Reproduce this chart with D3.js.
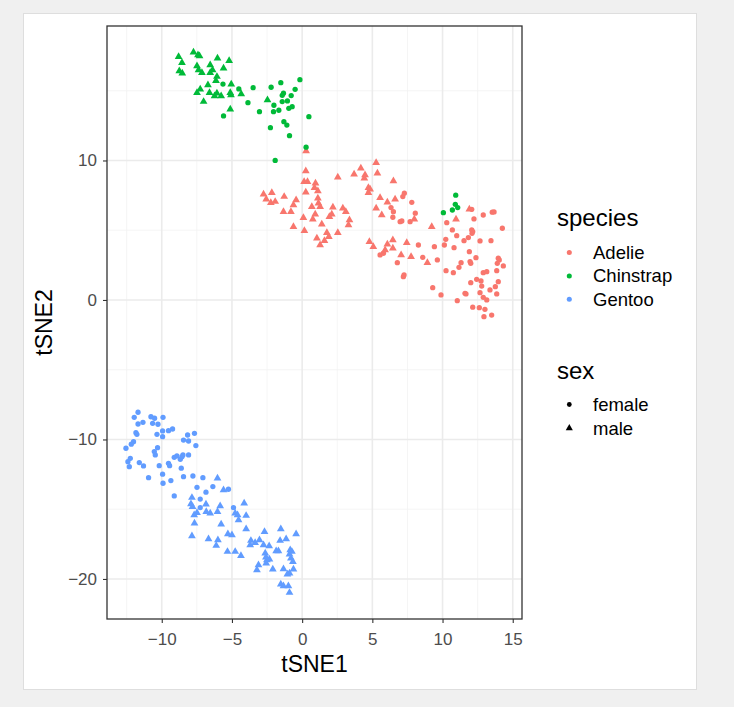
<!DOCTYPE html>
<html>
<head>
<meta charset="utf-8">
<title>tSNE penguins</title>
<script src="https://cdn.jsdelivr.net/npm/d3@7"></script>
<style>
  body { margin: 0; background: #f0f0f0; }
  svg { display: block; font-family: "Liberation Sans", Arial, sans-serif; }
</style>
</head>
<body>
<div id="viz"></div>
<script>
// tSNE coordinates, one array per species and sex
var adelieFemale = [
  [6.33,6.62],[6.50,6.33],[6.46,5.93],[6.98,5.61],[7.10,5.66],[7.17,7.41],[7.28,7.65],[7.81,7.00],
  [8.06,6.22],[7.69,5.61],[5.55,3.23],[5.79,3.35],[6.78,2.67],[7.21,1.67],[7.26,1.79],[8.28,3.94],
  [8.59,3.06],[9.42,3.82],[9.63,2.87],[9.30,0.88],[9.89,0.36],[10.30,5.54],[10.70,5.02],[10.23,4.35],
  [10.13,3.94],[10.82,3.75],[11.01,4.61],[10.25,2.10],[10.77,1.96],[11.17,2.34],[11.32,2.67],[11.53,4.25],
  [11.84,4.47],[12.08,5.02],[12.15,4.90],[12.10,4.78],[12.08,6.50],[12.24,5.81],[12.90,6.09],[13.54,6.29],
  [13.67,6.31],[14.26,5.14],[11.91,3.46],[12.38,3.03],[11.96,2.75],[12.01,2.63],[12.67,4.23],[13.45,4.25],
  [13.97,2.99],[14.04,2.87],[13.90,2.63],[14.33,2.44],[13.86,2.10],[12.90,1.96],[13.15,2.03],[12.43,1.48],
  [12.74,1.36],[12.79,1.00],[12.01,1.24],[13.97,1.31],[13.76,0.95],[13.38,0.72],[13.86,0.43],[12.67,0.52],
  [12.90,0.19],[13.15,0.00],[11.60,0.48],[11.67,0.43],[11.05,-0.05],[12.15,-0.52],[12.62,-0.55],[13.02,-0.67],
  [12.95,-1.20],[13.50,-1.08]
];
var adelieMale = [
  [0.28,10.68],[5.27,9.84],[4.18,9.44],[3.70,9.01],[4.48,8.96],[4.43,8.72],[5.36,9.08],[2.54,8.80],
  [0.26,9.25],[0.14,8.48],[0.38,8.48],[0.95,8.37],[0.88,8.05],[1.12,7.81],[0.26,7.72],[4.72,8.05],
  [4.84,7.94],[4.72,7.69],[5.55,7.33],[6.07,7.00],[-2.75,7.58],[-2.16,7.69],[-2.56,7.22],[-2.23,6.97],
  [-1.92,7.05],[-1.28,7.41],[-0.43,7.17],[-0.62,6.81],[1.12,7.29],[1.16,6.93],[1.28,6.69],[0.69,6.69],
  [2.19,6.65],[2.90,6.57],[3.11,6.33],[5.27,6.57],[-1.33,6.33],[-0.80,6.33],[0.93,6.14],[2.11,6.14],
  [1.94,5.97],[0.09,5.90],[0.76,5.78],[3.37,5.73],[3.30,5.38],[1.40,5.43],[-0.62,5.25],[0.16,4.97],
  [1.76,4.82],[1.90,4.54],[2.54,4.82],[1.05,4.42],[1.59,4.25],[1.28,3.94],[4.79,4.18],[5.07,3.82],
  [5.91,3.58],[6.07,3.99],[6.50,8.53],[6.62,7.22],[5.67,6.09],[7.99,5.78],[9.23,5.25],[10.96,5.78],
  [11.91,6.50],[6.46,4.30],[6.46,3.71],[7.45,4.11],[7.05,3.23],[7.76,3.10],[8.92,2.67]
];
var gentooFemale = [
  [-11.69,-8.05],[-11.96,-8.41],[-10.77,-8.37],[-10.51,-8.48],[-9.91,-8.41],[-11.69,-8.89],[-11.34,-8.77],[-10.65,-8.84],
  [-10.27,-8.91],[-11.84,-9.51],[-11.77,-9.63],[-10.34,-9.63],[-9.94,-9.39],[-9.94,-9.80],[-9.52,-9.37],[-9.23,-9.25],
  [-12.01,-10.16],[-12.17,-10.34],[-12.55,-10.63],[-10.30,-10.59],[-10.53,-10.87],[-10.46,-11.11],[-8.45,-10.04],[-8.09,-10.11],
  [-8.16,-9.68],[-7.67,-9.56],[-7.57,-10.44],[-12.24,-11.35],[-12.41,-11.59],[-12.31,-11.95],[-11.60,-11.66],[-11.30,-11.90],
  [-10.18,-11.88],[-9.52,-11.71],[-9.44,-11.88],[-9.11,-11.28],[-8.92,-11.18],[-8.68,-11.42],[-8.56,-11.23],[-8.49,-11.11],
  [-8.09,-11.11],[-8.61,-12.06],[-9.94,-12.49],[-10.94,-12.74],[-8.45,-12.67],[-7.78,-12.62],[-7.07,-12.74],[-9.35,-12.95],
  [-9.91,-13.14],[-7.49,-13.43],[-6.36,-13.38],[-6.85,-13.78],[-9.11,-14.05],[-7.26,-14.27],[-5.25,-13.57],[-4.89,-14.89],
  [-7.26,-14.89]
];
var gentooMale = [
  [-6.03,-12.78],[-7.85,-14.17],[-5.60,-13.62],[-7.92,-14.62],[-7.81,-14.82],[-6.85,-14.65],[-7.49,-15.25],[-7.69,-15.41],
  [-6.83,-15.18],[-6.55,-15.29],[-5.84,-14.77],[-6.03,-15.18],[-4.13,-14.57],[-4.77,-15.29],[-4.60,-15.41],[-3.99,-15.46],
  [-7.67,-16.01],[-5.77,-16.08],[-4.53,-15.77],[-3.99,-16.42],[-7.85,-16.92],[-5.29,-16.77],[-5.00,-16.85],[-6.67,-17.13],
  [-6.00,-17.20],[-6.12,-17.61],[-2.68,-16.61],[-1.52,-16.42],[-0.43,-16.77],[-3.65,-17.25],[-3.70,-17.56],[-3.35,-17.40],
  [-3.04,-17.20],[-2.75,-17.56],[-2.35,-17.63],[-1.57,-17.25],[-1.14,-17.13],[-5.32,-18.04],[-4.77,-18.04],[-4.36,-18.33],
  [-2.63,-18.16],[-2.58,-18.44],[-2.51,-18.64],[-2.33,-18.59],[-2.56,-18.87],[-1.85,-17.99],[-1.69,-17.99],[-0.85,-17.92],
  [-0.73,-18.04],[-0.90,-18.23],[-0.80,-18.52],[-0.66,-18.76],[-3.11,-19.00],[-3.22,-19.35],[-2.09,-19.30],[-1.33,-19.28],
  [-0.62,-19.30],[-0.90,-19.59],[-1.05,-19.66],[-1.52,-20.38],[-1.33,-20.50],[-0.98,-20.50],[-0.90,-20.98]
];
var chinstrapFemale = [
  [-5.64,15.48],[-4.51,15.13],[-3.49,15.22],[-2.21,15.25],[-1.52,15.58],[-0.16,15.79],[-0.50,15.10],[-1.33,14.82],
  [-1.42,14.67],[-0.78,14.65],[-1.05,14.27],[-1.42,14.22],[-2.01,13.96],[-0.71,13.86],[-0.95,13.74],[-3.86,14.14],
  [-3.04,13.50],[-2.04,13.50],[-1.66,13.60],[-5.60,13.19],[0.48,13.14],[-1.30,12.78],[-1.09,12.54],[-2.26,12.35],
  [-0.90,11.78],[0.28,10.95],[-1.92,10.00],[10.94,7.51],[10.91,6.86],[11.08,6.62],[10.70,6.45],[10.06,6.26]
];
var chinstrapMale = [
  [-8.80,17.44],[-7.74,17.76],[-7.42,17.56],[-7.31,17.49],[-8.56,17.01],[-8.75,16.42],[-8.54,16.25],[-6.03,17.33],
  [-5.20,17.15],[-7.49,16.77],[-7.38,16.49],[-7.14,16.29],[-6.55,16.85],[-6.38,16.49],[-6.55,16.29],[-5.60,16.61],
  [-6.07,16.01],[-6.14,15.72],[-6.71,15.41],[-5.05,15.46],[-7.26,15.10],[-7.49,14.86],[-6.60,14.86],[-6.07,14.82],
  [-6.24,14.62],[-5.77,14.62],[-5.12,14.86],[-5.07,14.70],[-4.34,14.77],[-7.02,14.22],[-5.12,13.67],[-2.47,14.34]
];

var species = ["Adelie", "Chinstrap", "Gentoo"];
var speciesColors = ["#F8766D", "#00BA38", "#619CFF"];
var sexes = ["female", "male"];
var xTicks = [-10, -5, 0, 5, 10, 15];
var yTicks = [-20, -10, 0, 10];
var xMinor = [-12.5, -7.5, -2.5, 2.5, 7.5, 12.5];
var yMinor = [-15, -5, 5, 15];

// draw order follows the original data: Adelie, Gentoo, Chinstrap
var groups = [
  {species: "Adelie", sex: "female", pts: adelieFemale},
  {species: "Adelie", sex: "male", pts: adelieMale},
  {species: "Gentoo", sex: "female", pts: gentooFemale},
  {species: "Gentoo", sex: "male", pts: gentooMale},
  {species: "Chinstrap", sex: "female", pts: chinstrapFemale},
  {species: "Chinstrap", sex: "male", pts: chinstrapMale}
];

var W = 734, H = 707;
var panel = {left: 107, top: 26, right: 522, bottom: 619};

var svg = d3.select("#viz").append("svg").attr("width", W).attr("height", H);

// white card on grey page
svg.append("rect").attr("x", 23.5).attr("y", 13.5).attr("width", 673).attr("height", 676)
   .attr("fill", "#ffffff").attr("stroke", "#dedede");

var x = d3.scaleLinear().domain([-13.9, 15.66]).range([panel.left, panel.right]);
var y = d3.scaleLinear().domain([-22.87, 19.64]).range([panel.bottom, panel.top]);
var color = d3.scaleOrdinal().domain(species).range(speciesColors);
var shape = d3.scaleOrdinal().domain(sexes).range([d3.symbolCircle, d3.symbolTriangle]);
var symSize = {female: 22, male: 26};

// grid lines
var grid = svg.append("g");
grid.selectAll(".xmin").data(xMinor).enter().append("line")
    .attr("x1", function(d) { return x(d); }).attr("x2", function(d) { return x(d); })
    .attr("y1", panel.top).attr("y2", panel.bottom)
    .attr("stroke", "#f2f2f2").attr("stroke-width", 0.8);
grid.selectAll(".ymin").data(yMinor).enter().append("line")
    .attr("y1", function(d) { return y(d); }).attr("y2", function(d) { return y(d); })
    .attr("x1", panel.left).attr("x2", panel.right)
    .attr("stroke", "#f2f2f2").attr("stroke-width", 0.8);
grid.selectAll(".xmaj").data(xTicks).enter().append("line")
    .attr("x1", function(d) { return x(d); }).attr("x2", function(d) { return x(d); })
    .attr("y1", panel.top).attr("y2", panel.bottom)
    .attr("stroke", "#ebebeb").attr("stroke-width", 1.6);
grid.selectAll(".ymaj").data(yTicks).enter().append("line")
    .attr("y1", function(d) { return y(d); }).attr("y2", function(d) { return y(d); })
    .attr("x1", panel.left).attr("x2", panel.right)
    .attr("stroke", "#ebebeb").attr("stroke-width", 1.6);

// points
var sym = d3.symbol();
groups.forEach(function(g) {
  svg.append("g").selectAll("path").data(g.pts).enter().append("path")
     .attr("transform", function(d) { return "translate(" + x(d[0]) + "," + y(d[1]) + ")"; })
     .attr("d", sym.type(shape(g.sex)).size(symSize[g.sex])())
     .attr("fill", color(g.species));
});

// panel border
svg.append("rect").attr("x", panel.left).attr("y", panel.top)
   .attr("width", panel.right - panel.left).attr("height", panel.bottom - panel.top)
   .attr("fill", "none").attr("stroke", "#333333").attr("stroke-width", 1.3);

var fmt = function(d) { return d < 0 ? "\u2212" + Math.abs(d) : "" + d; };

// axes
var xAxis = svg.append("g").attr("transform", "translate(0," + panel.bottom + ")")
    .call(d3.axisBottom(x).tickValues(xTicks).tickSize(4).tickPadding(10).tickFormat(fmt));
var yAxis = svg.append("g").attr("transform", "translate(" + panel.left + ",0)")
    .call(d3.axisLeft(y).tickValues(yTicks).tickSize(4).tickPadding(6).tickFormat(fmt));
[xAxis, yAxis].forEach(function(a) {
  a.select(".domain").remove();
  a.selectAll(".tick line").attr("stroke", "#333333").attr("stroke-width", 1.1);
  a.selectAll(".tick text").attr("fill", "#4d4d4d").style("font-size", "17px")
   .style("font-family", "'Liberation Sans', Arial, sans-serif");
});

// axis titles
svg.append("text").attr("x", (panel.left + panel.right) / 2).attr("y", 672)
   .attr("text-anchor", "middle").style("font-size", "23px").text("tSNE1");
svg.append("text").attr("transform", "translate(52," + (panel.top + panel.bottom) / 2 + ") rotate(-90)")
   .attr("text-anchor", "middle").style("font-size", "23px").text("tSNE2");

// legends
var leg = svg.append("g");
leg.append("text").attr("x", 557).attr("y", 226).style("font-size", "24px").text("species");
species.forEach(function(s, i) {
  var yy = 252.5 + i * 23.4;
  leg.append("path").attr("transform", "translate(569.3," + yy + ")")
     .attr("d", d3.symbol().type(d3.symbolCircle).size(20)()).attr("fill", color(s));
  leg.append("text").attr("x", 593).attr("y", yy).attr("dy", "0.35em")
     .style("font-size", "18.5px").text(s);
});
leg.append("text").attr("x", 557).attr("y", 378.5).style("font-size", "24px").text("sex");
sexes.forEach(function(s, i) {
  var yy = 404.5 + i * 23.6;
  leg.append("path").attr("transform", "translate(569.3," + yy + ")")
     .attr("d", d3.symbol().type(shape(s)).size(symSize[s] - 4)()).attr("fill", "#000000");
  leg.append("text").attr("x", 593).attr("y", yy).attr("dy", "0.35em")
     .style("font-size", "18.5px").text(s);
});
</script>
</body>
</html>
